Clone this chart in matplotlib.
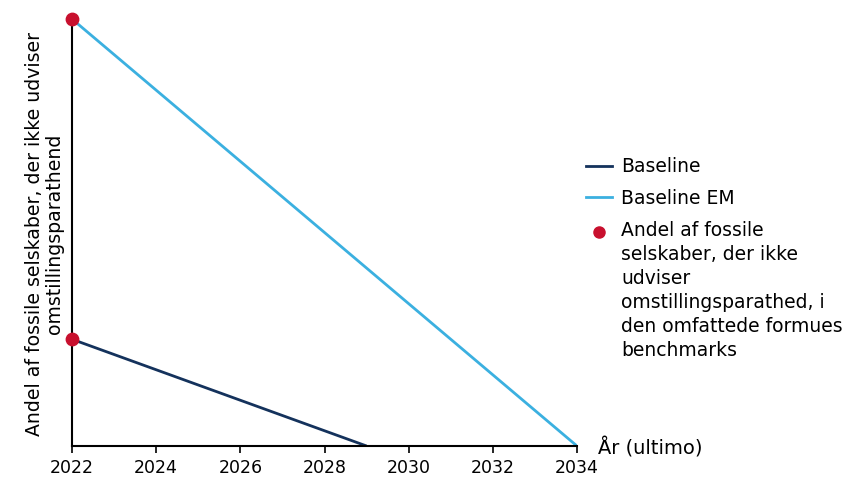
import matplotlib.pyplot as plt
from matplotlib.lines import Line2D

plt.rcParams['font.family'] = ['DejaVu Sans']

# Data
years_base = [2022, 2029]
base_vals = [0.25, 0.0]
years_em = [2022, 2034]
em_vals = [1.0, 0.0]
dot_years = [2022, 2022]
dot_vals = [0.25, 1.0]
xticks = list(range(2022, 2035, 2))
legend_labels = ['Baseline', 'Baseline EM',
                 'Andel af fossile\nselskaber, der ikke\nudviser\nomstillingsparathed, i\nden omfattede formues\nbenchmarks']

navy = '#14325C'
lightblue = '#3BB0E0'
red = '#C8102E'

W, H = 863, 481
fig = plt.figure(figsize=(W / 100, H / 100), dpi=100)
ax = fig.add_axes([72 / W, 1 - 447 / H, (577 - 72) / W, (447 - 20) / H])

ax.plot(years_base, base_vals, color=navy, lw=2, solid_capstyle='butt')
ax.plot(years_em, em_vals, color=lightblue, lw=2, solid_capstyle='butt')
ax.scatter(dot_years, dot_vals, color=red, s=80, zorder=5, clip_on=False)

ax.set_xlim(2022, 2034)
ax.set_ylim(0, 1)
ax.set_xticks(xticks)
ax.set_yticks([])
ax.tick_params(axis='x', length=5, width=1.2, labelsize=12.5, pad=4)
for s in ['top', 'right']:
    ax.spines[s].set_visible(False)
for s in ['left', 'bottom']:
    ax.spines[s].set_linewidth(1.5)
    ax.spines[s].set_color('black')

ax.set_ylabel('Andel af fossile selskaber, der ikke udviser\nomstillingsparathend',
              fontsize=13.6, linespacing=1.05, labelpad=6)
ax.annotate('År (ultimo)', xy=(1, 0), xycoords='axes fraction',
            xytext=(15, -1), textcoords='offset points', fontsize=14,
            va='center', ha='left')

# legend drawn by hand so the dot sits on the first text line
fs = 13.5
tx = 621 / W
fig.add_artist(Line2D([586 / W, 612 / W], [1 - 167 / H] * 2, color=navy, lw=2,
                      transform=fig.transFigure))
fig.text(tx, 1 - 167 / H, legend_labels[0], fontsize=fs, va='center')
fig.add_artist(Line2D([586 / W, 612 / W], [1 - 198 / H] * 2, color=lightblue, lw=2,
                      transform=fig.transFigure))
fig.text(tx, 1 - 198 / H, legend_labels[1], fontsize=fs, va='center')
fig.add_artist(Line2D([599 / W], [1 - 233 / H], color=red, marker='o', ls='none',
                      markersize=8, transform=fig.transFigure))
fig.text(tx, 1 - 221 / H, legend_labels[2], fontsize=fs, va='top', linespacing=1.34)

plt.savefig('out.png', dpi=100)
